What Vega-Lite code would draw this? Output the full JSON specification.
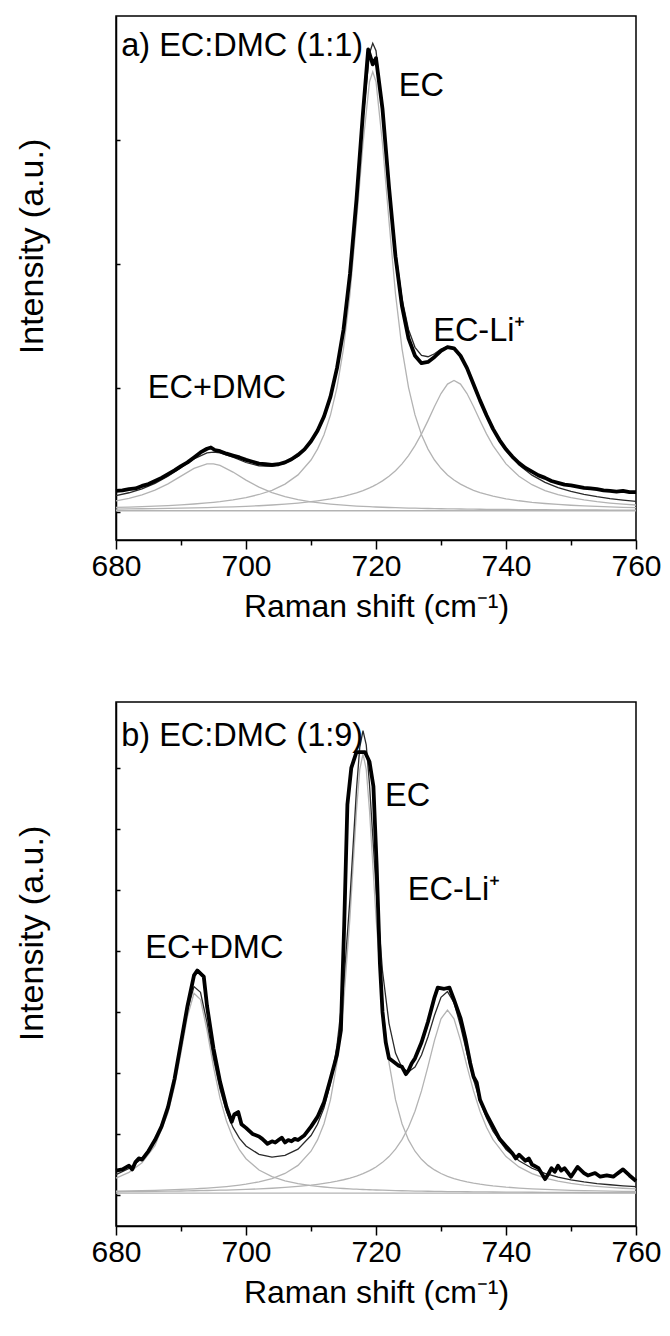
{
  "$schema": "https://vega.github.io/schema/vega-lite/v6.json",
  "padding": {"left": 14, "top": 15, "right": 5, "bottom": 5},
  "spacing": 78,
  "config": {
    "font": "Liberation Sans",
    "view": {"stroke": "black", "strokeWidth": 1.5},
    "axis": {"domainColor": "black", "domainWidth": 1.5, "tickColor": "black", "tickWidth": 1.5, "labelColor": "black", "titleColor": "black", "labelFont": "Liberation Sans", "titleFont": "Liberation Sans", "labelFontSize": 30, "titleFontSize": 32, "titleFontWeight": "normal", "grid": false}
  },
  "datasets": {
    "a_curves": [
      {"x":680,"fit":0.131,"c1":0.090,"c2":0.0365,"c3":0.0238},
      {"x":682,"fit":0.155,"c1":0.1106,"c2":0.0394,"c3":0.0249},
      {"x":684,"fit":0.187,"c1":0.1384,"c2":0.0427,"c3":0.0262},
      {"x":686,"fit":0.231,"c1":0.1764,"c2":0.0467,"c3":0.0276},
      {"x":688,"fit":0.288,"c1":0.227,"c2":0.0515,"c3":0.0292},
      {"x":690,"fit":0.358,"c1":0.2894,"c2":0.0572,"c3":0.031},
      {"x":692,"fit":0.429,"c1":0.352,"c2":0.0642,"c3":0.0331},
      {"x":694,"fit":0.476,"c1":0.388,"c2":0.0729,"c3":0.0355},
      {"x":695,"fit":0.483,"c1":0.388,"c2":0.078,"c3":0.0369},
      {"x":696,"fit":0.477,"c1":0.375,"c2":0.0838,"c3":0.0384},
      {"x":698,"fit":0.442,"c1":0.322,"c2":0.0978,"c3":0.0417},
      {"x":700,"fit":0.399,"c1":0.257,"c2":0.116,"c3":0.0457},
      {"x":702,"fit":0.371,"c1":0.200,"c2":0.141,"c3":0.0504},
      {"x":704,"fit":0.367,"c1":0.1559,"c2":0.175,"c3":0.0561},
      {"x":706,"fit":0.391,"c1":0.1234,"c2":0.225,"c3":0.063},
      {"x":708,"fit":0.450,"c1":0.0996,"c2":0.299,"c3":0.0718},
      {"x":710,"fit":0.564,"c1":0.0821,"c2":0.419,"c3":0.0827},
      {"x":711,"fit":0.651,"c1":0.0751,"c2":0.507,"c3":0.0892},
      {"x":712,"fit":0.769,"c1":0.069,"c2":0.623,"c3":0.0968},
      {"x":713,"fit":0.932,"c1":0.0636,"c2":0.783,"c3":0.1052},
      {"x":714,"fit":1.159,"c1":0.059,"c2":1.005,"c3":0.115},
      {"x":715,"fit":1.479,"c1":0.0549,"c2":1.318,"c3":0.1263},
      {"x":716,"fit":1.929,"c1":0.0512,"c2":1.758,"c3":0.1395},
      {"x":717,"fit":2.529,"c1":0.048,"c2":2.346,"c3":0.1548},
      {"x":718,"fit":3.17,"c1":0.0451,"c2":2.97,"c3":0.173},
      {"x":719,"fit":3.70,"c1":0.0426,"c2":3.47,"c3":0.1945},
      {"x":719.5,"fit":3.78,"c1":0.0414,"c2":3.55,"c3":0.2066},
      {"x":720,"fit":3.72,"c1":0.0403,"c2":3.47,"c3":0.22},
      {"x":721,"fit":3.24,"c1":0.0382,"c2":2.97,"c3":0.2508},
      {"x":722,"fit":2.650,"c1":0.0363,"c2":2.346,"c3":0.288},
      {"x":723,"fit":2.106,"c1":0.0346,"c2":1.758,"c3":0.333},
      {"x":724,"fit":1.719,"c1":0.0331,"c2":1.318,"c3":0.388},
      {"x":725,"fit":1.472,"c1":0.0317,"c2":1.005,"c3":0.455},
      {"x":726,"fit":1.328,"c1":0.0304,"c2":0.783,"c3":0.535},
      {"x":727,"fit":1.262,"c1":0.0292,"c2":0.623,"c3":0.63},
      {"x":728,"fit":1.252,"c1":0.0281,"c2":0.507,"c3":0.737},
      {"x":729,"fit":1.276,"c1":0.0271,"c2":0.419,"c3":0.85},
      {"x":730,"fit":1.313,"c1":0.0262,"c2":0.352,"c3":0.955},
      {"x":731,"fit":1.336,"c1":0.0254,"c2":0.299,"c3":1.0316},
      {"x":732,"fit":1.323,"c1":0.0246,"c2":0.258,"c3":1.06},
      {"x":733,"fit":1.261,"c1":0.0239,"c2":0.225,"c3":1.0316},
      {"x":734,"fit":1.156,"c1":0.0232,"c2":0.198,"c3":0.955},
      {"x":735,"fit":1.028,"c1":0.0226,"c2":0.175,"c3":0.85},
      {"x":736,"fit":0.896,"c1":0.022,"c2":0.157,"c3":0.737},
      {"x":737,"fit":0.773,"c1":0.0215,"c2":0.141,"c3":0.63},
      {"x":738,"fit":0.664,"c1":0.021,"c2":0.128,"c3":0.535},
      {"x":740,"fit":0.495,"c1":0.0201,"c2":0.1064,"c3":0.388},
      {"x":742,"fit":0.378,"c1":0.0192,"c2":0.0904,"c3":0.288},
      {"x":744,"fit":0.297,"c1":0.0185,"c2":0.078,"c3":0.22},
      {"x":746,"fit":0.239,"c1":0.0179,"c2":0.0683,"c3":0.173},
      {"x":748,"fit":0.197,"c1":0.0173,"c2":0.0605,"c3":0.1395},
      {"x":750,"fit":0.166,"c1":0.0168,"c2":0.0542,"c3":0.115},
      {"x":752,"fit":0.142,"c1":0.0164,"c2":0.049,"c3":0.0968},
      {"x":754,"fit":0.123,"c1":0.0159,"c2":0.0446,"c3":0.0827},
      {"x":756,"fit":0.108,"c1":0.0156,"c2":0.041,"c3":0.0718},
      {"x":758,"fit":0.096,"c1":0.0152,"c2":0.0379,"c3":0.063},
      {"x":760,"fit":0.086,"c1":0.0149,"c2":0.0352,"c3":0.0561}
    ],
    "a_base": [{"x":680,"y":0.01},{"x":760,"y":0.01}],
    "a_exp": [
      {"x":680,"y":0.17},{"x":681,"y":0.175},{"x":682,"y":0.185},{"x":683,"y":0.19},{"x":684,"y":0.21},{"x":685,"y":0.225},{"x":686,"y":0.25},{"x":687,"y":0.275},{"x":688,"y":0.305},{"x":689,"y":0.335},{"x":690,"y":0.37},{"x":691,"y":0.40},{"x":692,"y":0.44},{"x":693,"y":0.48},{"x":694,"y":0.51},{"x":694.6,"y":0.52},{"x":695.2,"y":0.50},{"x":696,"y":0.49},{"x":697,"y":0.47},{"x":698,"y":0.455},{"x":699,"y":0.44},{"x":700,"y":0.42},{"x":701,"y":0.405},{"x":702,"y":0.39},{"x":703,"y":0.385},{"x":704,"y":0.38},{"x":705,"y":0.385},{"x":706,"y":0.40},{"x":707,"y":0.425},{"x":708,"y":0.46},{"x":709,"y":0.505},{"x":710,"y":0.57},{"x":711,"y":0.655},{"x":712,"y":0.77},{"x":713,"y":0.93},{"x":714,"y":1.16},{"x":715,"y":1.47},{"x":716,"y":1.92},{"x":717,"y":2.52},{"x":718,"y":3.22},{"x":718.8,"y":3.73},{"x":719.5,"y":3.61},{"x":720,"y":3.66},{"x":721,"y":3.25},{"x":722,"y":2.62},{"x":723,"y":2.06},{"x":724,"y":1.66},{"x":725,"y":1.40},{"x":726,"y":1.26},{"x":727,"y":1.20},{"x":728,"y":1.21},{"x":729,"y":1.25},{"x":730,"y":1.30},{"x":731,"y":1.33},{"x":732,"y":1.32},{"x":733,"y":1.26},{"x":734,"y":1.16},{"x":735,"y":1.03},{"x":736,"y":0.90},{"x":737,"y":0.78},{"x":738,"y":0.67},{"x":739,"y":0.58},{"x":740,"y":0.505},{"x":741,"y":0.445},{"x":742,"y":0.395},{"x":743,"y":0.355},{"x":744,"y":0.325},{"x":745,"y":0.295},{"x":746,"y":0.275},{"x":747,"y":0.25},{"x":748,"y":0.235},{"x":749,"y":0.22},{"x":750,"y":0.215},{"x":751,"y":0.205},{"x":752,"y":0.195},{"x":753,"y":0.19},{"x":754,"y":0.185},{"x":755,"y":0.175},{"x":756,"y":0.17},{"x":757,"y":0.165},{"x":758,"y":0.17},{"x":759,"y":0.16},{"x":760,"y":0.16}
    ],
    "a_text": [
      {"x":680.8,"y":3.68,"t":"a) EC:DMC (1:1)"},
      {"x":723.5,"y":3.355,"t":"EC"},
      {"x":728.8,"y":1.38,"t":"EC-Li⁺"},
      {"x":684.9,"y":0.92,"t":"EC+DMC"}
    ],
    "b_curves": [
      {"x":680,"fit":0.167,"c1":0.1386,"c2":0.0318,"c3":0.0266},
      {"x":682,"fit":0.217,"c1":0.1858,"c2":0.0337,"c3":0.0275},
      {"x":684,"fit":0.299,"c1":0.2642,"c2":0.0359,"c3":0.0286},
      {"x":686,"fit":0.443,"c1":0.4042,"c2":0.0386,"c3":0.0299},
      {"x":688,"fit":0.716,"c1":0.6726,"c2":0.0418,"c3":0.0313},
      {"x":689,"fit":0.934,"c1":0.8885,"c2":0.0437,"c3":0.032},
      {"x":690,"fit":1.216,"c1":1.1673,"c2":0.0458,"c3":0.0329},
      {"x":691,"fit":1.517,"c1":1.465,"c2":0.0481,"c3":0.0338},
      {"x":692,"fit":1.708,"c1":1.653,"c2":0.0506,"c3":0.0347},
      {"x":693,"fit":1.661,"c1":1.6015,"c2":0.0535,"c3":0.0357},
      {"x":694,"fit":1.414,"c1":1.35,"c2":0.0568,"c3":0.0369},
      {"x":695,"fit":1.118,"c1":1.0495,"c2":0.0604,"c3":0.0381},
      {"x":696,"fit":0.868,"c1":0.7942,"c2":0.0646,"c3":0.0394},
      {"x":697,"fit":0.684,"c1":0.6036,"c2":0.0694,"c3":0.0408},
      {"x":698,"fit":0.554,"c1":0.4668,"c2":0.0748,"c3":0.0424},
      {"x":699,"fit":0.464,"c1":0.3688,"c2":0.0812,"c3":0.0441},
      {"x":700,"fit":0.402,"c1":0.2975,"c2":0.0886,"c3":0.0459},
      {"x":702,"fit":0.333,"c1":0.2051,"c2":0.1075,"c3":0.0503},
      {"x":704,"fit":0.311,"c1":0.1505,"c2":0.135,"c3":0.0555},
      {"x":706,"fit":0.325,"c1":0.1161,"c2":0.1764,"c3":0.062},
      {"x":708,"fit":0.376,"c1":0.0931,"c2":0.2428,"c3":0.0703},
      {"x":710,"fit":0.487,"c1":0.077,"c2":0.3588,"c3":0.0808},
      {"x":711,"fit":0.580,"c1":0.0709,"c2":0.4514,"c3":0.0873},
      {"x":712,"fit":0.714,"c1":0.0655,"c2":0.5842,"c3":0.0947},
      {"x":713,"fit":0.915,"c1":0.0608,"c2":0.7813,"c3":0.1032},
      {"x":714,"fit":1.224,"c1":0.0569,"c2":1.084,"c3":0.1132},
      {"x":715,"fit":1.707,"c1":0.0533,"c2":1.559,"c3":0.125},
      {"x":716,"fit":2.436,"c1":0.0502,"c2":2.277,"c3":0.1389},
      {"x":716.5,"fit":2.882,"c1":0.0488,"c2":2.716,"c3":0.1468},
      {"x":717,"fit":3.324,"c1":0.0475,"c2":3.151,"c3":0.1554},
      {"x":717.5,"fit":3.668,"c1":0.0462,"c2":3.487,"c3":0.165},
      {"x":718,"fit":3.806,"c1":0.0451,"c2":3.615,"c3":0.1754},
      {"x":718.5,"fit":3.688,"c1":0.0439,"c2":3.487,"c3":0.187},
      {"x":719,"fit":3.364,"c1":0.0429,"c2":3.151,"c3":0.20},
      {"x":719.5,"fit":2.942,"c1":0.0419,"c2":2.716,"c3":0.2142},
      {"x":720,"fit":2.518,"c1":0.0409,"c2":2.277,"c3":0.23},
      {"x":721,"fit":1.836,"c1":0.0392,"c2":1.559,"c3":0.2675},
      {"x":722,"fit":1.407,"c1":0.0376,"c2":1.084,"c3":0.315},
      {"x":723,"fit":1.163,"c1":0.0362,"c2":0.7813,"c3":0.3756},
      {"x":724,"fit":1.043,"c1":0.0349,"c2":0.5842,"c3":0.4536},
      {"x":725,"fit":1.010,"c1":0.0337,"c2":0.4514,"c3":0.555},
      {"x":726,"fit":1.048,"c1":0.0326,"c2":0.3588,"c3":0.6861},
      {"x":727,"fit":1.147,"c1":0.0316,"c2":0.2923,"c3":0.853},
      {"x":728,"fit":1.297,"c1":0.0307,"c2":0.2428,"c3":1.0538},
      {"x":729,"fit":1.473,"c1":0.0299,"c2":0.2055,"c3":1.2676},
      {"x":730,"fit":1.620,"c1":0.0291,"c2":0.1764,"c3":1.4444},
      {"x":731,"fit":1.667,"c1":0.0284,"c2":0.1535,"c3":1.515},
      {"x":732,"fit":1.577,"c1":0.0277,"c2":0.135,"c3":1.4444},
      {"x":733,"fit":1.385,"c1":0.0271,"c2":0.12,"c3":1.2676},
      {"x":734,"fit":1.158,"c1":0.0265,"c2":0.1075,"c3":1.0538},
      {"x":735,"fit":0.946,"c1":0.026,"c2":0.0973,"c3":0.853},
      {"x":736,"fit":0.770,"c1":0.0255,"c2":0.0886,"c3":0.6861},
      {"x":737,"fit":0.631,"c1":0.0251,"c2":0.0812,"c3":0.555},
      {"x":738,"fit":0.523,"c1":0.0246,"c2":0.0748,"c3":0.4536},
      {"x":740,"fit":0.373,"c1":0.0238,"c2":0.0646,"c3":0.315},
      {"x":742,"fit":0.280,"c1":0.0231,"c2":0.0568,"c3":0.23},
      {"x":744,"fit":0.219,"c1":0.0225,"c2":0.0506,"c3":0.1754},
      {"x":746,"fit":0.177,"c1":0.022,"c2":0.0458,"c3":0.1389},
      {"x":748,"fit":0.147,"c1":0.0215,"c2":0.0418,"c3":0.1132},
      {"x":750,"fit":0.124,"c1":0.021,"c2":0.0386,"c3":0.0947},
      {"x":752,"fit":0.107,"c1":0.0207,"c2":0.0359,"c3":0.0808},
      {"x":754,"fit":0.094,"c1":0.0203,"c2":0.0337,"c3":0.0703},
      {"x":756,"fit":0.084,"c1":0.02,"c2":0.0318,"c3":0.062},
      {"x":758,"fit":0.075,"c1":0.0197,"c2":0.0301,"c3":0.0555},
      {"x":760,"fit":0.068,"c1":0.0194,"c2":0.0287,"c3":0.0503}
    ],
    "b_base": [{"x":680,"y":0.015},{"x":760,"y":0.015}],
    "b_exp": [
      {"x":680,"y":0.20},{"x":681,"y":0.21},{"x":682,"y":0.24},{"x":682.5,"y":0.21},{"x":683,"y":0.27},{"x":683.5,"y":0.30},{"x":684,"y":0.29},{"x":685,"y":0.36},{"x":686,"y":0.45},{"x":687,"y":0.56},{"x":688,"y":0.72},{"x":689,"y":0.95},{"x":690,"y":1.25},{"x":691,"y":1.55},{"x":692,"y":1.80},{"x":692.5,"y":1.84},{"x":693.5,"y":1.79},{"x":694,"y":1.55},{"x":695,"y":1.20},{"x":696,"y":0.93},{"x":697,"y":0.72},{"x":697.8,"y":0.60},{"x":698.2,"y":0.66},{"x":698.8,"y":0.68},{"x":699.3,"y":0.58},{"x":700,"y":0.55},{"x":701,"y":0.50},{"x":702,"y":0.48},{"x":702.5,"y":0.46},{"x":703.3,"y":0.42},{"x":704,"y":0.44},{"x":704.5,"y":0.43},{"x":705,"y":0.45},{"x":705.5,"y":0.47},{"x":706,"y":0.43},{"x":706.5,"y":0.45},{"x":707,"y":0.44},{"x":707.5,"y":0.46},{"x":708,"y":0.45},{"x":709,"y":0.49},{"x":710,"y":0.56},{"x":711,"y":0.64},{"x":712,"y":0.76},{"x":713,"y":0.95},{"x":714,"y":1.15},{"x":714.6,"y":1.35},{"x":715.1,"y":2.2},{"x":715.6,"y":3.2},{"x":716.2,"y":3.5},{"x":717,"y":3.63},{"x":718.3,"y":3.63},{"x":719,"y":3.55},{"x":719.6,"y":3.35},{"x":720.1,"y":2.7},{"x":720.6,"y":1.9},{"x":721,"y":1.5},{"x":721.5,"y":1.25},{"x":722,"y":1.12},{"x":722.5,"y":1.10},{"x":723,"y":1.08},{"x":723.5,"y":1.06},{"x":724,"y":1.05},{"x":724.6,"y":0.99},{"x":725,"y":1.02},{"x":725.5,"y":1.08},{"x":726,"y":1.12},{"x":727,"y":1.25},{"x":728,"y":1.42},{"x":729,"y":1.62},{"x":729.5,"y":1.70},{"x":730.5,"y":1.69},{"x":731.3,"y":1.70},{"x":732,"y":1.60},{"x":733,"y":1.45},{"x":733.8,"y":1.27},{"x":734.5,"y":1.08},{"x":735,"y":0.97},{"x":735.5,"y":0.92},{"x":736,"y":0.78},{"x":737,"y":0.66},{"x":738,"y":0.56},{"x":739,"y":0.46},{"x":740,"y":0.40},{"x":741,"y":0.34},{"x":741.5,"y":0.30},{"x":742,"y":0.33},{"x":743,"y":0.28},{"x":743.5,"y":0.30},{"x":744,"y":0.25},{"x":745,"y":0.22},{"x":746,"y":0.13},{"x":746.5,"y":0.17},{"x":747,"y":0.22},{"x":747.5,"y":0.19},{"x":748,"y":0.24},{"x":748.5,"y":0.20},{"x":749,"y":0.22},{"x":750,"y":0.15},{"x":751,"y":0.23},{"x":752,"y":0.18},{"x":752.6,"y":0.16},{"x":753.7,"y":0.18},{"x":754.5,"y":0.15},{"x":755.5,"y":0.16},{"x":756.5,"y":0.15},{"x":757,"y":0.17},{"x":758,"y":0.21},{"x":759,"y":0.16},{"x":760,"y":0.115}
    ],
    "b_text": [
      {"x":680.8,"y":3.68,"t":"b) EC:DMC (1:9)"},
      {"x":721.4,"y":3.19,"t":"EC"},
      {"x":724.9,"y":2.42,"t":"EC-Li⁺"},
      {"x":684.5,"y":1.94,"t":"EC+DMC"}
    ]
  },
  "vconcat": [
    {
      "width": 520, "height": 524,
      "resolve": {"axis": {"x": "independent"}},
      "layer": [
        {
          "data": {"name": "a_curves"},
          "transform": [{"fold": ["c1", "c2", "c3"], "as": ["comp", "v"]}],
          "mark": {"type": "line", "color": "#b3b3b3", "strokeWidth": 1.3},
          "encoding": {
            "x": {"field": "x", "type": "quantitative", "scale": {"domain": [680, 760], "nice": false, "zero": false},
                  "axis": {"orient": "bottom", "values": [680, 700, 720, 740, 760], "tickSize": 9, "labelPadding": 2, "title": "Raman shift (cm⁻¹)", "titlePadding": 10, "labelFlush": false}},
            "y": {"field": "v", "type": "quantitative", "scale": {"domain": [-0.226, 4], "nice": false, "zero": false},
                  "axis": {"values": [0, 1, 2, 3], "labels": false, "tickSize": -4, "title": "Intensity (a.u.)", "titlePadding": 66, "titleFontSize": 34, "titleY": 230}},
            "detail": {"field": "comp"}
          }
        },
        {
          "data": {"name": "a_base"},
          "mark": {"type": "line", "color": "#b3b3b3", "strokeWidth": 1.3},
          "encoding": {
            "x": {"field": "x", "type": "quantitative",
                  "axis": {"orient": "bottom", "values": [690, 710, 730, 750], "tickSize": 5, "labels": false, "domain": false, "title": null}},
            "y": {"field": "y", "type": "quantitative"}
          }
        },
        {
          "data": {"name": "a_curves"},
          "mark": {"type": "line", "color": "#2a2a2a", "strokeWidth": 1.3},
          "encoding": {
            "x": {"field": "x", "type": "quantitative", "axis": null},
            "y": {"field": "fit", "type": "quantitative"}
          }
        },
        {
          "data": {"name": "a_exp"},
          "mark": {"type": "line", "color": "black", "strokeWidth": 3.8, "strokeJoin": "round"},
          "encoding": {
            "x": {"field": "x", "type": "quantitative", "axis": null},
            "y": {"field": "y", "type": "quantitative"}
          }
        },
        {
          "data": {"name": "a_text"},
          "mark": {"type": "text", "align": "left", "baseline": "alphabetic", "fontSize": 32.5, "font": "Liberation Sans", "color": "black"},
          "encoding": {
            "x": {"field": "x", "type": "quantitative", "axis": null},
            "y": {"field": "y", "type": "quantitative"},
            "text": {"field": "t"}
          }
        }
      ]
    },
    {
      "width": 520, "height": 524,
      "resolve": {"axis": {"x": "independent"}},
      "layer": [
        {
          "data": {"name": "b_curves"},
          "transform": [{"fold": ["c1", "c2", "c3"], "as": ["comp", "v"]}],
          "mark": {"type": "line", "color": "#b3b3b3", "strokeWidth": 1.3},
          "encoding": {
            "x": {"field": "x", "type": "quantitative", "scale": {"domain": [680, 760], "nice": false, "zero": false},
                  "axis": {"orient": "bottom", "values": [680, 700, 720, 740, 760], "tickSize": 9, "labelPadding": 2, "title": "Raman shift (cm⁻¹)", "titlePadding": 10, "labelFlush": false}},
            "y": {"field": "v", "type": "quantitative", "scale": {"domain": [-0.254, 4.04], "nice": false, "zero": false},
                  "axis": {"values": [0, 0.25, 0.5, 0.75, 1, 1.25, 1.5, 1.75, 2, 2.25, 2.5, 2.75, 3, 3.25, 3.5, 3.75], "labels": false, "tickSize": -4, "title": "Intensity (a.u.)", "titlePadding": 66, "titleFontSize": 34, "titleY": 231}},
            "detail": {"field": "comp"}
          }
        },
        {
          "data": {"name": "b_base"},
          "mark": {"type": "line", "color": "#b3b3b3", "strokeWidth": 1.3},
          "encoding": {
            "x": {"field": "x", "type": "quantitative",
                  "axis": {"orient": "bottom", "values": [690, 710, 730, 750], "tickSize": 5, "labels": false, "domain": false, "title": null}},
            "y": {"field": "y", "type": "quantitative"}
          }
        },
        {
          "data": {"name": "b_curves"},
          "mark": {"type": "line", "color": "#2a2a2a", "strokeWidth": 1.3},
          "encoding": {
            "x": {"field": "x", "type": "quantitative", "axis": null},
            "y": {"field": "fit", "type": "quantitative"}
          }
        },
        {
          "data": {"name": "b_exp"},
          "mark": {"type": "line", "color": "black", "strokeWidth": 3.8, "strokeJoin": "round"},
          "encoding": {
            "x": {"field": "x", "type": "quantitative", "axis": null},
            "y": {"field": "y", "type": "quantitative"}
          }
        },
        {
          "data": {"name": "b_text"},
          "mark": {"type": "text", "align": "left", "baseline": "alphabetic", "fontSize": 32.5, "font": "Liberation Sans", "color": "black"},
          "encoding": {
            "x": {"field": "x", "type": "quantitative", "axis": null},
            "y": {"field": "y", "type": "quantitative"},
            "text": {"field": "t"}
          }
        }
      ]
    }
  ]
}
